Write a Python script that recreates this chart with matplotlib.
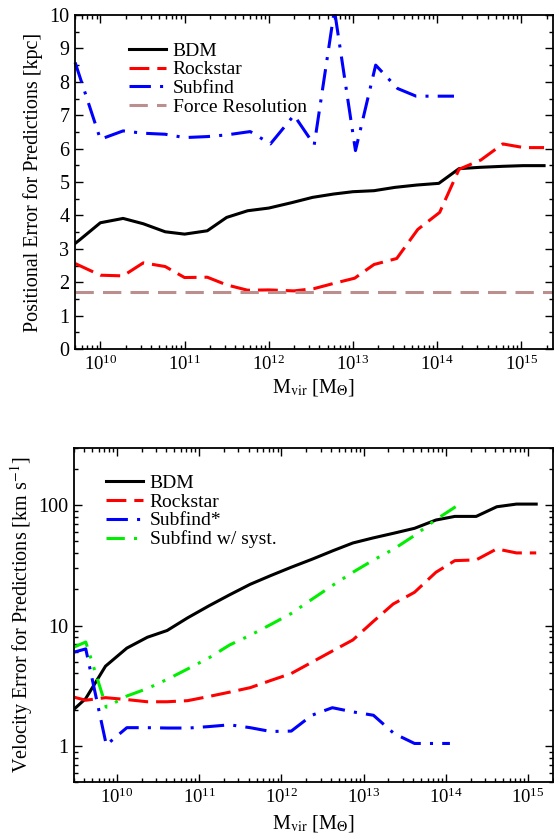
import numpy as np
import matplotlib
matplotlib.use("Agg")
import matplotlib.pyplot as plt
from matplotlib.ticker import FormatStrFormatter, NullFormatter, MultipleLocator, LogLocator

plt.rcParams["font.family"] = ["Liberation Serif", "DejaVu Serif"]
plt.rcParams["mathtext.fontset"] = "stix"

# --- top panel: positional error [kpc] vs log10(Mvir) ---
pos_bdm_logm = [9.70, 9.76, 10.0, 10.27, 10.51, 10.77, 11.0, 11.27, 11.50, 11.75, 12.0, 12.27,
                12.52, 12.77, 13.0, 13.25, 13.5, 13.76, 14.02, 14.26, 14.51, 14.78, 15.02, 15.27]
pos_bdm = [3.16, 3.28, 3.78, 3.91, 3.75, 3.51, 3.44, 3.54, 3.94, 4.14, 4.22, 4.38,
           4.54, 4.64, 4.71, 4.74, 4.84, 4.91, 4.96, 5.40, 5.44, 5.47, 5.49, 5.49]

pos_rock_logm = [9.70, 10.0, 10.27, 10.51, 10.77, 11.0, 11.27, 11.50, 11.75, 12.0, 12.30,
                 12.54, 12.78, 13.02, 13.25, 13.52, 13.77, 14.03, 14.26, 14.52, 14.78, 15.03, 15.27]
pos_rock = [2.56, 2.21, 2.19, 2.58, 2.47, 2.14, 2.15, 1.92, 1.76, 1.77, 1.74,
            1.81, 1.97, 2.12, 2.53, 2.71, 3.58, 4.09, 5.38, 5.66, 6.14, 6.03, 6.03]

pos_subf_logm = [9.70, 10.0, 10.27, 10.51, 10.77, 11.0, 11.27, 11.50, 11.78, 12.02, 12.30,
                 12.54, 12.78, 13.03, 13.27, 13.53, 13.75, 14.03, 14.20]
pos_subf = [8.58, 6.28, 6.53, 6.46, 6.43, 6.33, 6.36, 6.41, 6.51, 6.14, 7.00,
            6.11, 10.15, 5.94, 8.50, 7.80, 7.57, 7.57, 7.57]

force_resolution = 1.7

# --- bottom panel: velocity error [km/s] vs log10(Mvir) ---
vel_bdm_logm = [9.47, 9.62, 9.86, 10.12, 10.37, 10.61, 10.86, 11.12, 11.37, 11.62, 11.87, 12.12,
                12.38, 12.63, 12.87, 13.11, 13.36, 13.62, 13.88, 14.11, 14.37, 14.62, 14.86, 15.10]
vel_bdm = [2.0, 2.48, 4.6, 6.5, 8.0, 9.1, 11.6, 14.6, 18.0, 22.0, 26.0, 30.5,
           35.7, 41.9, 48.5, 53.3, 58.3, 64.2, 75.2, 80.6, 80.6, 96.9, 102.0, 102.0]

vel_rock_logm = vel_bdm_logm
vel_rock = [2.55, 2.40, 2.52, 2.43, 2.33, 2.33, 2.38, 2.58, 2.80, 3.05, 3.50, 4.0,
            5.0, 6.2, 7.6, 10.7, 15.1, 18.9, 27.7, 34.6, 35.1, 43.3, 40.1, 40.1]

vel_subf_logm = [9.47, 9.62, 9.87, 10.12, 10.37, 10.62, 10.87, 11.12, 11.37, 11.62, 11.87, 12.12,
                 12.37, 12.62, 12.87, 13.12, 13.37, 13.62, 13.87, 14.05]
vel_subf = [6.0, 6.4, 1.02, 1.42, 1.42, 1.41, 1.41, 1.45, 1.50, 1.42, 1.32, 1.33,
            1.80, 2.08, 1.92, 1.80, 1.27, 1.05, 1.05, 1.05]

vel_syst_logm = [9.47, 9.62, 9.87, 10.12, 10.37, 10.62, 10.87, 11.12, 11.37, 11.62, 11.87, 12.12,
                 12.37, 12.62, 12.87, 13.12, 13.37, 13.62, 13.87, 14.12]
vel_syst = [6.6, 7.3, 2.1, 2.6, 3.0, 3.6, 4.4, 5.4, 6.9, 8.3, 10.2, 12.6,
            16.5, 21.5, 27.7, 35.0, 43.3, 56.0, 75.0, 97.0]

LW = 2.2
DASH = (0, (6.5, 2.6))
FORCE_DASH = (0, (6.0, 3.0))
DASHDOT = (0, (7, 3, 1, 3))
DASHDOTDOT = (0, (6, 3, 1, 3, 1, 3))


def style_axis(ax):
    """Grace-like frame: inward ticks on all four sides."""
    for sp in ax.spines.values():
        sp.set_linewidth(1.3)
    ax.tick_params(which="both", direction="in", top=True, right=True)
    ax.tick_params(axis="x", labelsize=13.5)
    ax.tick_params(axis="y", labelsize=14.5)
    ax.tick_params(which="major", length=6, width=1.0, pad=4)
    ax.tick_params(which="minor", length=3, width=1.0)
    ax.xaxis.set_minor_locator(LogLocator(base=10, subs=np.arange(2, 10), numticks=20))
    ax.xaxis.set_minor_formatter(NullFormatter())


def add_legend(ax, anchor):
    ax.legend(loc="upper left", bbox_to_anchor=anchor, frameon=False, fontsize=14,
              handlelength=1.9, handletextpad=0.35, labelspacing=0.055,
              borderpad=0, borderaxespad=0)


fig = plt.figure(figsize=(5.54, 8.33), dpi=100)

# top panel
ax1 = fig.add_axes([0.1354, 0.581, 0.8623, 0.401])
ax1.plot(10 ** np.array(pos_bdm_logm), pos_bdm, color="black", lw=LW, label="BDM")
ax1.plot(10 ** np.array(pos_rock_logm), pos_rock, color="red", lw=LW, linestyle=DASH, label="Rockstar")
ax1.plot(10 ** np.array(pos_subf_logm), pos_subf, color="blue", lw=LW, linestyle=DASHDOT,
         label="Subfind", clip_on=False)
ax1.axhline(force_resolution, color="#bc8f8f", lw=LW, linestyle=FORCE_DASH, label="Force Resolution")
ax1.set_xscale("log")
ax1.set_xlim(5e9, 2.36e15)
ax1.set_ylim(0, 10)
ax1.yaxis.set_major_locator(MultipleLocator(1))
ax1.yaxis.set_minor_locator(MultipleLocator(0.5))
style_axis(ax1)
ax1.set_ylabel("Positional Error for Predictions [kpc]", fontsize=14.5)
ax1.yaxis.set_label_coords(-0.067, 0.5)
ax1.set_xlabel(r"M$_{\rm vir}$ [M$_{\Theta}$]", fontsize=14.5)
ax1.xaxis.set_label_coords(0.5, -0.084)
add_legend(ax1, (0.113, 0.919))

# bottom panel
ax2 = fig.add_axes([0.1336, 0.0609, 0.8641, 0.4017])
ax2.plot(10 ** np.array(vel_bdm_logm), vel_bdm, color="black", lw=LW, label="BDM")
ax2.plot(10 ** np.array(vel_rock_logm), vel_rock, color="red", lw=LW, linestyle=DASH, label="Rockstar")
ax2.plot(10 ** np.array(vel_subf_logm), vel_subf, color="blue", lw=LW, linestyle=DASHDOT, label="Subfind*")
ax2.plot(10 ** np.array(vel_syst_logm), vel_syst, color="#00ee00", lw=LW, linestyle=DASHDOTDOT,
         label="Subfind w/ syst.")
ax2.set_xscale("log")
ax2.set_yscale("log")
ax2.set_xlim(3e9, 2e15)
ax2.set_ylim(0.5, 300)
style_axis(ax2)
ax2.yaxis.set_major_formatter(FormatStrFormatter("%g"))
ax2.yaxis.set_minor_formatter(NullFormatter())
ax2.set_ylabel(r"Velocity Error for Predictions [km s$^{-1}$]", fontsize=14.5)
ax2.yaxis.set_label_coords(-0.0815, 0.5)
ax2.set_xlabel(r"M$_{\rm vir}$ [M$_{\Theta}$]", fontsize=14.5)
ax2.xaxis.set_label_coords(0.5, -0.092)
add_legend(ax2, (0.067, 0.920))

fig.savefig("out.png", dpi=100)
